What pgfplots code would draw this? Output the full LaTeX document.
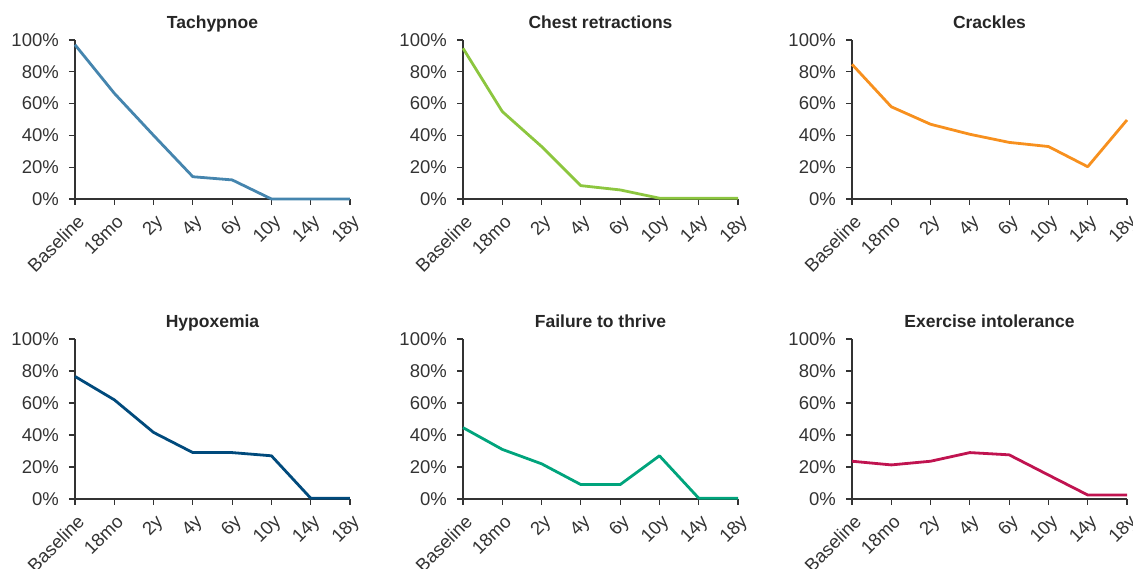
\documentclass[border=0pt]{standalone}
\usepackage{fontspec}
\setmainfont{Liberation Sans}
\usepackage{pgfplots}
\pgfplotsset{compat=1.18}
\definecolor{cA}{HTML}{4585AE}
\definecolor{cB}{HTML}{8CC63F}
\definecolor{cC}{HTML}{F7901E}
\definecolor{cD}{HTML}{004A7C}
\definecolor{cE}{HTML}{00A47C}
\definecolor{cF}{HTML}{C01350}
\definecolor{axc}{HTML}{333333}
\pgfplotsset{
  panel/.style={
    scale only axis, width=275pt, height=159pt,
    anchor=south west,
    xmin=0, xmax=7, ymin=0, ymax=100,
    axis x line*=bottom, axis y line*=left,
    axis line style={axc, line width=1.2pt, -},
    tick style={axc, line width=1.2pt},
    tick align=outside, major tick length=6pt,
    xtick={0,...,7},
    xticklabels={Baseline,18mo,2y,4y,6y,10y,14y,18y},
    ytick={0,20,40,60,80,100},
    yticklabels={0\%,20\%,40\%,60\%,80\%,100\%},
    tick label style={font=\fontsize{18.5}{20}\selectfont, text=axc},
    xticklabel style={yshift=-7pt, xshift=1pt, rotate=45, anchor=north east, inner sep=1pt},
    yticklabel style={inner sep=2pt, xshift=-8pt},
    title style={font=\fontsize{17.5}{19}\selectfont\bfseries, text=black!85, at={(0.5,1)}, anchor=base, text depth=0pt, yshift=5pt},
    clip=false,
    every axis plot/.append style={line width=2.8pt, line join=round, no marks},
  }
}
\begin{document}
\begin{tikzpicture}[x=1pt,y=1pt]
\useasboundingbox (0,0) rectangle (1133,569);
\begin{axis}[panel, at={(75pt,370pt)}, title={Tachypnoe}]
\addplot[cA] coordinates {(0,97) (1,66.5) (2,40) (3,14) (4,12) (5,0) (6,0) (7,0)};
\end{axis}
\begin{axis}[panel, at={(463pt,370pt)}, title={Chest retractions}]
\addplot[cB] coordinates {(0,94.8) (1,55) (2,33) (3,8.4) (4,5.7) (5,0.5) (6,0.5) (7,0.5)};
\end{axis}
\begin{axis}[panel, at={(852pt,370pt)}, title={Crackles}]
\addplot[cC] coordinates {(0,84.7) (1,58) (2,47) (3,40.7) (4,35.6) (5,33) (6,20.3) (7,49.7)};
\end{axis}
\begin{axis}[panel, at={(75pt,70pt)}, height=160pt, title={Hypoxemia}]
\addplot[cD] coordinates {(0,76.6) (1,62) (2,41.6) (3,29) (4,29) (5,27) (6,0.5) (7,0.5)};
\end{axis}
\begin{axis}[panel, at={(463pt,70pt)}, height=160pt, title={Failure to thrive}]
\addplot[cE] coordinates {(0,44.6) (1,31) (2,22) (3,9) (4,9) (5,27) (6,0.5) (7,0.5)};
\end{axis}
\begin{axis}[panel, at={(852pt,70pt)}, height=160pt, title={Exercise intolerance}]
\addplot[cF] coordinates {(0,23.6) (1,21.3) (2,23.6) (3,29) (4,27.6) (5,15) (6,2.5) (7,2.5)};
\end{axis}
\end{tikzpicture}
\end{document}
